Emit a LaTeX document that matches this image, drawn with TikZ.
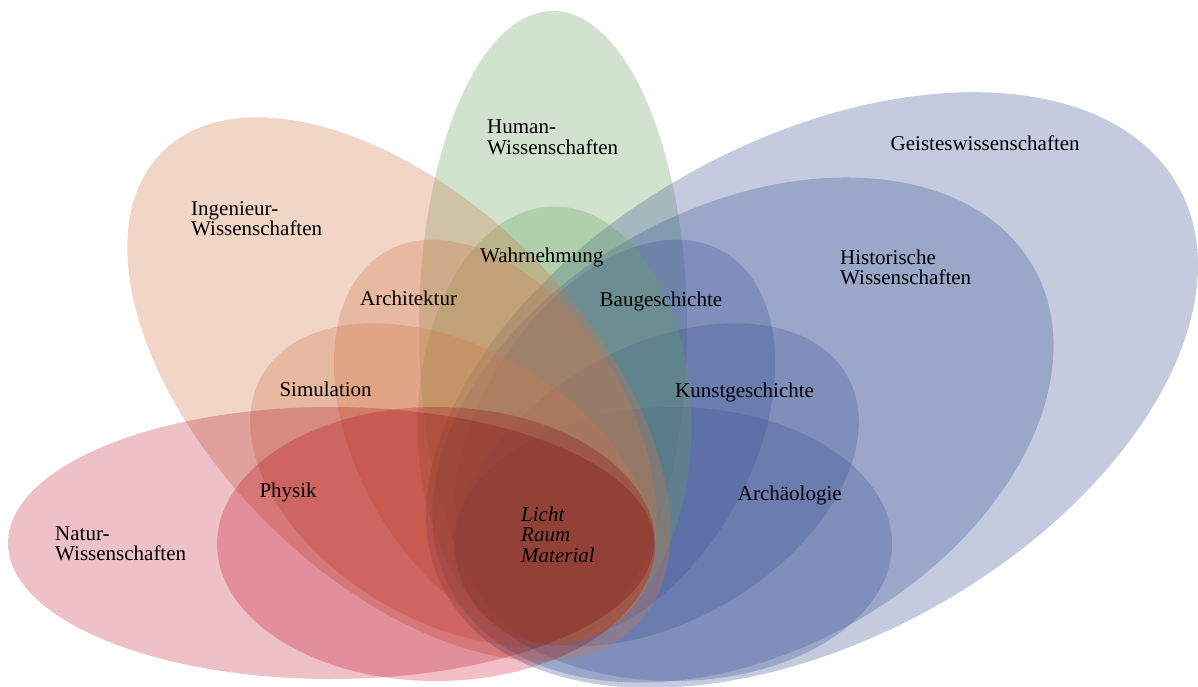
\documentclass[tikz,border=0pt]{standalone}
\usepackage{fontspec}
\setmainfont{Liberation Serif}
\definecolor{cblue}{RGB}{60,84,150}
\definecolor{cgreen}{RGB}{102,162,92}
\definecolor{cpeach}{RGB}{208,118,72}
\definecolor{cpinkA}{RGB}{238,192,200}
\definecolor{cpinkB}{RGB}{244,190,198}
\begin{document}
\begin{tikzpicture}[x=1pt,y=-1pt,
  lbl/.style={anchor=base west, inner sep=0pt, font=\fontsize{21}{24}\selectfont, text=black},
  ilbl/.style={lbl, font=\fontsize{21}{24}\selectfont\itshape},
  bluepetal/.style={fill=cblue, fill opacity=0.3},
  greenpetal/.style={fill=cgreen, fill opacity=0.3},
  peachpetal/.style={fill=cpeach, fill opacity=0.3}]
\useasboundingbox (0,0) rectangle (1198,687);
\begin{scope}
\clip (0,0) rectangle (1198,687);
% Human-Wissenschaften
\fill[greenpetal] (553,328) ellipse [x radius=134, y radius=317];
% blue group
\fill[bluepetal, rotate around={29:(812,390)}] (812,390) ellipse [x radius=419, y radius=249];
\fill[bluepetal, rotate around={29:(743,430)}] (743,430) ellipse [x radius=333, y radius=222];
\fill[bluepetal, rotate around={60:(613.75,441.4)}] (613.75,441.4) ellipse [x radius=219, y radius=137];
\fill[bluepetal, rotate around={30:(657.1,484.75)}] (657.1,484.75) ellipse [x radius=219, y radius=137];
\fill[bluepetal] (673,544) ellipse [x radius=219, y radius=137];
% Wahrnehmung
\fill[greenpetal] (554.5,425.5) ellipse [x radius=137, y radius=219];
% peach group
\fill[peachpetal, rotate around={-45:(399,389)}] (399,389) ellipse [x radius=335, y radius=188];
\fill[peachpetal, rotate around={-60:(495.25,441.4)}] (495.25,441.4) ellipse [x radius=219, y radius=137];
\fill[peachpetal, rotate around={-30:(451.9,484.75)}] (451.9,484.75) ellipse [x radius=219, y radius=137];
% pink group
\begin{scope}[blend mode=multiply]
\fill[cpinkA] (331,543) ellipse [x radius=323, y radius=136];
\fill[cpinkB] (436,544) ellipse [x radius=219, y radius=137];
\end{scope}
\end{scope}
% labels
\node[lbl] (human1) at (487,134) {Human-};
\node[lbl] (human2) at (487,154.3) {Wissenschaften};
\node[lbl] (ing1) at (191,215) {Ingenieur-};
\node[lbl] (ing2) at (191,235.5) {Wissenschaften};
\node[lbl] (geist) at (890.5,150.7) {Geisteswissenschaften};
\node[lbl] (hist1) at (840,264) {Historische};
\node[lbl] (hist2) at (840,284.3) {Wissenschaften};
\node[lbl] (wahr) at (480,262.3) {Wahrnehmung};
\node[lbl] (arch) at (360,305) {Architektur};
\node[lbl] (bau) at (599.5,306) {Baugeschichte};
\node[lbl] (sim) at (279.3,396) {Simulation};
\node[lbl] (kunst) at (675,397.3) {Kunstgeschichte};
\node[lbl] (phys) at (259.3,497.7) {Physik};
\node[lbl] (archae) at (737.7,500.7) {Archäologie};
\node[lbl] (natur1) at (55,540.7) {Natur-};
\node[lbl] (natur2) at (55,560.7) {Wissenschaften};
\node[ilbl] (licht) at (521,521.7) {Licht};
\node[ilbl] (raum) at (521,541.7) {Raum};
\node[ilbl] (material) at (521,562.7) {Material};
\end{tikzpicture}
\end{document}
